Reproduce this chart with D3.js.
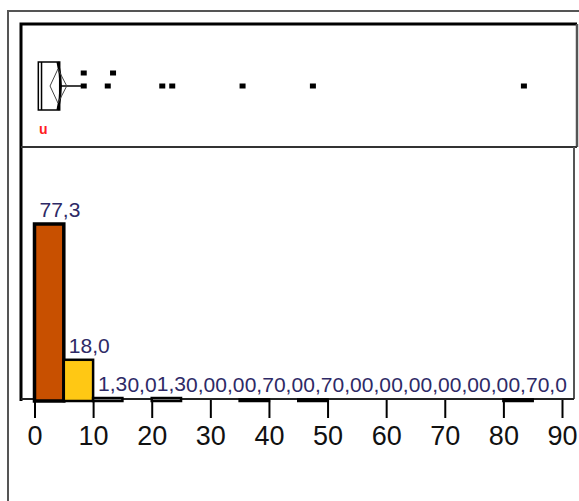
<!DOCTYPE html>
<html>
<head>
<meta charset="utf-8">
<script src="https://cdn.jsdelivr.net/npm/d3@7/dist/d3.min.js"></script>
<style>
  html, body { margin: 0; padding: 0; background: #ffffff; }
  svg { display: block; font-family: "Liberation Sans", Arial, sans-serif; }
</style>
</head>
<body>
<svg id="chart" width="579" height="501"></svg>
<script>
// Histogram bins (width 5) and percentage of observations in each bin
const binStarts = [0, 5, 10, 15, 20, 25, 30, 35, 40, 45, 50, 55, 60, 65, 70, 75, 80, 85];
const binWidth = 5;
const percents = [77.3, 18.0, 1.3, 0.0, 1.3, 0.0, 0.0, 0.7, 0.0, 0.7, 0.0, 0.0, 0.0, 0.0, 0.0, 0.0, 0.7, 0.0];
const barFills = ["#C85000", "#FFC814", "#E0E0E0", "#E0E0E0", "#E0E0E0", "#E0E0E0", "#E0E0E0", "#E0E0E0", "#E0E0E0",
                  "#E0E0E0", "#E0E0E0", "#E0E0E0", "#E0E0E0", "#E0E0E0", "#E0E0E0", "#E0E0E0", "#E0E0E0", "#E0E0E0"];
const xTicks = [0, 10, 20, 30, 40, 50, 60, 70, 80, 90];

// Box plot summary of the same variable
const boxQ1 = 0.65;
const boxMedian = 1.2;
const boxQ3 = 4.3;
const meanLow = 2.65;
const mean = 4.0;
const meanHigh = 5.5;
const whiskerHigh = 8.4;
// Outlying values; lane 0 = centre row, lane 1 = upper row
const outlierValues = [8.4, 8.4, 12.5, 13.4, 21.8, 23.5, 35.5, 47.5, 83.5];
const outlierLanes  = [1, 0, 0, 1, 0, 0, 0, 0, 0];
const boxLabel = "u";

const svg = d3.select("#chart");

const x = d3.scaleLinear().domain([0, 90]).range([34.5, 562]);
const y = d3.scaleLinear().domain([0, 77.3]).range([401, 224]);
const lane = d3.scalePoint().domain([0, 1]).range([86, 73]);

const fmt = v => d3.format(".1f")(v).replace(".", ",");

// ---- frames ----
const frame = svg.append("g").attr("fill", "none");
frame.append("path").attr("d", "M8,501V11H579").attr("stroke", "#555").attr("stroke-width", 2);
frame.append("path").attr("d", "M21,401V24H577").attr("stroke", "#000").attr("stroke-width", 3);
frame.append("path").attr("d", "M577,24V147").attr("stroke", "#555").attr("stroke-width", 2.5);
frame.append("path").attr("d", "M21,147H577").attr("stroke", "#333").attr("stroke-width", 2);
frame.append("path").attr("d", "M574,147V399").attr("stroke", "#555").attr("stroke-width", 2);
frame.append("path").attr("d", "M21,399H574").attr("stroke", "#222").attr("stroke-width", 2);

// ---- box plot panel ----
const bp = svg.append("g");
const boxTop = 62, boxBottom = 110, boxMid = 86;
bp.append("line")
  .attr("x1", x(boxQ3)).attr("x2", x(whiskerHigh))
  .attr("y1", boxMid).attr("y2", boxMid)
  .attr("stroke", "#000").attr("stroke-width", 1.5);
bp.append("rect")
  .attr("x", x(boxQ1)).attr("y", boxTop)
  .attr("width", x(boxQ3) - x(boxQ1)).attr("height", boxBottom - boxTop)
  .attr("fill", "#fff").attr("stroke", "#000").attr("stroke-width", 1.5);
bp.append("line")
  .attr("x1", x(boxMedian)).attr("x2", x(boxMedian))
  .attr("y1", boxTop).attr("y2", boxBottom)
  .attr("stroke", "#000").attr("stroke-width", 1.5);
// right edge drawn as a heavier bracket
bp.append("path")
  .attr("d", `M${x(boxQ3) - 2},${boxTop}Q${x(boxQ3) + 4},${boxMid} ${x(boxQ3) - 2},${boxBottom}`)
  .attr("fill", "none").attr("stroke", "#000").attr("stroke-width", 2.5);
// mean diamond
bp.append("polygon")
  .attr("points", [
    [x(meanLow), boxMid], [x(mean), boxTop + 7], [x(meanHigh), boxMid], [x(mean), boxBottom - 7]
  ].map(p => p.join(",")).join(" "))
  .attr("fill", "none").attr("stroke", "#444").attr("stroke-width", 1);

bp.selectAll("rect.outlier")
  .data(outlierValues.map((v, i) => ({ v, lane: outlierLanes[i] })))
  .join("rect")
  .attr("class", "outlier")
  .attr("x", d => x(d.v) - 3)
  .attr("y", d => lane(d.lane) - 2.5)
  .attr("width", 6).attr("height", 5)
  .attr("fill", "#000");

bp.append("text")
  .attr("x", x(boxQ1) + 5).attr("y", 134)
  .attr("text-anchor", "middle")
  .attr("font-size", 14).attr("font-weight", "bold")
  .attr("fill", "#ff2020")
  .text(boxLabel);

// ---- histogram ----
const bins = binStarts.map((s, i) => ({ x0: s, x1: s + binWidth, pct: percents[i], fill: barFills[i] }));

svg.append("g").selectAll("rect")
  .data(bins.filter(d => d.pct > 0))
  .join("rect")
  .attr("x", d => x(d.x0))
  .attr("y", d => y(d.pct))
  .attr("width", d => x(d.x1) - x(d.x0))
  .attr("height", d => y(0) - y(d.pct))
  .attr("fill", d => d.fill)
  .attr("stroke", "#000")
  .attr("stroke-width", d => d.pct > 50 ? 3.5 : 2.5);

svg.append("g").selectAll("text")
  .data(bins)
  .join("text")
  .attr("x", d => x(d.x0) + 5)
  .attr("y", d => Math.min(y(d.pct), 399) - 7)
  .attr("font-size", 21)
  .attr("fill", "#2e2a66")
  .text(d => fmt(d.pct));

const axis = d3.axisBottom(x).tickValues(xTicks).tickSize(18).tickPadding(8).tickFormat(d3.format("d"));
const ax = svg.append("g").attr("transform", "translate(0,400)").call(axis);
ax.select(".domain").remove();
ax.selectAll(".tick line").attr("stroke", "#000").attr("stroke-width", 2);
ax.selectAll(".tick text")
  .attr("font-size", 27)
  .attr("font-family", "Liberation Sans, Arial, sans-serif")
  .attr("fill", "#111");
</script>
</body>
</html>
